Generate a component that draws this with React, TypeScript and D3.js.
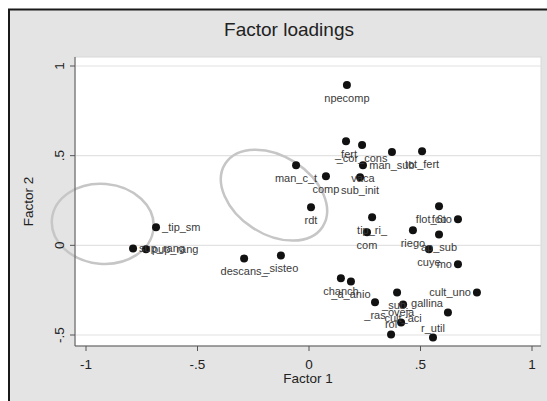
import React from "react";
import * as d3 from "d3";

// ---- data ----
const names = [
  "npecomp", "_fert", "_cor_cons", "man_sub", "tot_fert", "vaca", "sub_init", "man_c_t",
  "comp", "rdt", "tip_ri_", "com", "riego", "ap_sub", "cuye", "mo", "fco", "flot_6to",
  "cult_uno", "chanch", "_a_anio", "_ras", "_sub_", "cult_aci", "gallina", "oveja", "rol",
  "r_util", "descans_", "_sisteo", "_tip_sm", "sup_rang", "pup_rang",
];
const factor1 = [
  0.170, 0.166, 0.238, 0.372, 0.507, 0.242, 0.229, -0.058,
  0.076, 0.009, 0.283, 0.260, 0.466, 0.583, 0.538, 0.668, 0.583, 0.668,
  0.753, 0.143, 0.188, 0.296, 0.395, 0.422, 0.623, 0.413, 0.368,
  0.556, -0.291, -0.126, -0.686, -0.789, -0.731,
];
const factor2 = [
  0.894, 0.581, 0.559, 0.520, 0.525, 0.447, 0.380, 0.447,
  0.385, 0.212, 0.156, 0.073, 0.084, 0.061, -0.022, -0.106, 0.218, 0.145,
  -0.263, -0.184, -0.201, -0.318, -0.263, -0.330, -0.374, -0.430, -0.497,
  -0.514, -0.073, -0.056, 0.101, -0.017, -0.022,
];
// label clock positions (6 = below, 3 = right, 9 = left, 12 = above, 10 = upper-left)
const labelPos = [
  6, 6, 6, 6, 6, 6, 6, 6,
  6, 6, 6, 6, 6, 6, 6, 9, 6, 9,
  9, 6, 6, 6, 6, 6, 10, 12, 12,
  12, 6, 6, 3, 3, 3,
];
const xTicks = [-1, -0.5, 0, 0.5, 1];
const yTicks = [-0.5, 0, 0.5, 1];
const tickLabel = (v: number) => (v === 0 ? "0" : v === 1 ? "1" : v === -1 ? "-1" : v > 0 ? ".5" : "-.5");
// highlighted groups: center in data units
const ellipseCx = [-0.925, -0.157];
const ellipseCy = [0.12, 0.28];

export default function App() {
  const W = 547, H = 401;
  const plotL = 75, plotR = 541, plotT = 57, plotB = 346;
  const x = d3.scaleLinear().domain([-1, 1]).range([86, 532]);
  const y = d3.scaleLinear().domain([-0.5, 1]).range([335, 66]);
  const font = "'Liberation Sans', Arial, Helvetica, sans-serif";
  const ellStyle = [
    { rx: 51, ry: 40, rot: 5 },
    { rx: 58, ry: 39, rot: 33 },
  ];

  const labelProps = (i: number) => {
    const px = x(factor1[i]);
    const py = y(factor2[i]);
    switch (labelPos[i]) {
      case 3: return { x: px + 6, y: py + 4, anchor: "start" };
      case 9: return { x: px - 6, y: py + 4, anchor: "end" };
      case 12: return { x: px, y: py - 6, anchor: "middle" };
      case 10: return { x: px - 5, y: py - 5, anchor: "end" };
      default: return { x: px, y: py + 17, anchor: "middle" };
    }
  };

  return (
    <svg width={W} height={H} style={{ position: "absolute", left: 0, top: 0 }} fontFamily={font}>
      <rect x={0} y={0} width={W} height={H} fill="#ffffff" />
      <rect x={9} y={9.5} width={700} height={600} fill="#e4e4e4" stroke="#1a1a1a" strokeWidth={2} />
      <text x={289} y={36} textAnchor="middle" fontSize={19} fill="#222">Factor loadings</text>

      {/* plot region */}
      <rect x={plotL} y={plotT} width={plotR - plotL} height={plotB - plotT} fill="#ffffff" stroke="#d8d8d8" strokeWidth={1} />
      {yTicks.map((t) => (
        <line key={"g" + t} x1={plotL} x2={plotR} y1={y(t)} y2={y(t)} stroke="#e2e2e2" strokeWidth={1.2} />
      ))}

      {/* ellipses */}
      {ellipseCx.map((cx, i) => (
        <ellipse
          key={"e" + i}
          cx={0}
          cy={0}
          rx={ellStyle[i].rx}
          ry={ellStyle[i].ry}
          transform={`translate(${x(cx)},${y(ellipseCy[i])}) rotate(${ellStyle[i].rot})`}
          fill="none"
          stroke="#c6c6c6"
          strokeWidth={2.5}
        />
      ))}

      {/* axes */}
      <line x1={plotL} x2={plotL} y1={plotT} y2={plotB} stroke="#555" strokeWidth={1} />
      <line x1={plotL} x2={plotR} y1={plotB} y2={plotB} stroke="#555" strokeWidth={1} />
      {yTicks.map((t) => (
        <g key={"yt" + t}>
          <line x1={plotL - 5} x2={plotL} y1={y(t)} y2={y(t)} stroke="#555" />
          <text
            x={0}
            y={0}
            transform={`translate(${64},${y(t)}) rotate(-90)`}
            textAnchor="middle"
            fontSize={13.5}
            fill="#222"
          >
            {tickLabel(t)}
          </text>
        </g>
      ))}
      {xTicks.map((t) => (
        <g key={"xt" + t}>
          <line x1={x(t)} x2={x(t)} y1={plotB} y2={plotB + 5} stroke="#555" />
          <text x={x(t)} y={369} textAnchor="middle" fontSize={13.5} fill="#222">
            {tickLabel(t)}
          </text>
        </g>
      ))}
      <text x={(plotL + plotR) / 2} y={383} textAnchor="middle" fontSize={13.5} fill="#222">Factor 1</text>
      <text
        x={0}
        y={0}
        transform={`translate(${33},${(plotT + plotB) / 2}) rotate(-90)`}
        textAnchor="middle"
        fontSize={13.5}
        fill="#222"
      >
        Factor 2
      </text>

      {/* points */}
      {names.map((n, i) => (
        <circle key={"p" + i} cx={x(factor1[i])} cy={y(factor2[i])} r={4} fill="#111" />
      ))}
      {names.map((n, i) => {
        const lp = labelProps(i);
        return (
          <text key={"l" + i} x={lp.x} y={lp.y} textAnchor={lp.anchor as any} fontSize={11} fill="#3a3a3a">
            {n}
          </text>
        );
      })}
    </svg>
  );
}
